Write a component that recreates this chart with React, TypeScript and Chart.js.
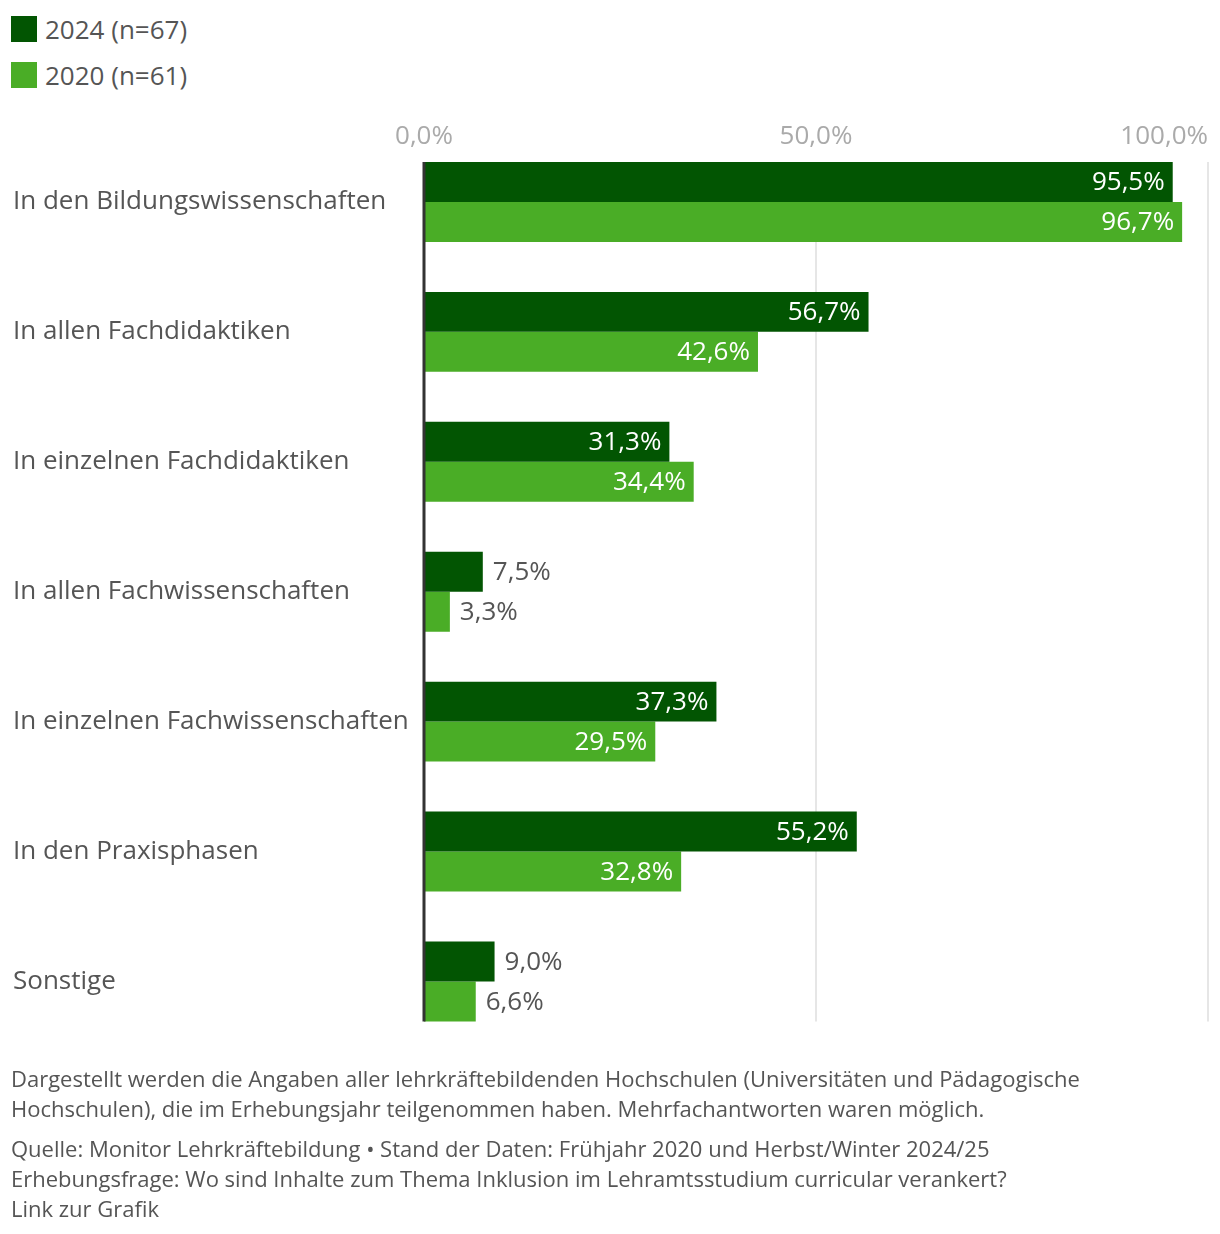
import { useEffect, useRef } from 'react';
import { Chart, registerables } from 'chart.js';

Chart.register(...registerables);

const categories = [
  'In den Bildungswissenschaften',
  'In allen Fachdidaktiken',
  'In einzelnen Fachdidaktiken',
  'In allen Fachwissenschaften',
  'In einzelnen Fachwissenschaften',
  'In den Praxisphasen',
  'Sonstige',
];
const values2024 = [95.5, 56.7, 31.3, 7.5, 37.3, 55.2, 9.0];
const values2020 = [96.7, 42.6, 34.4, 3.3, 29.5, 32.8, 6.6];
const xTicks = [0, 50, 100];

const DARK = '#025502';
const LIGHT = '#4aad26';
const TEXT = '#555555';
const FONT = '"Open Sans", sans-serif';

const fmt = (v: number) => v.toFixed(1).replace('.', ',') + '%';

// gridlines, top tick labels, zero line and value labels
const overlay = {
  id: 'overlay',
  beforeDatasetsDraw(chart: any) {
    const { ctx, chartArea } = chart;
    const x = chart.scales.x;
    const first = chart.getDatasetMeta(0).data[0];
    const lastMeta = chart.getDatasetMeta(chart.data.datasets.length - 1);
    const last = lastMeta.data[lastMeta.data.length - 1];
    const top = first.y - first.height / 2;
    const bottom = last.y + last.height / 2;
    ctx.save();
    ctx.strokeStyle = '#e6e6e6';
    ctx.lineWidth = 2;
    xTicks.slice(1).forEach((t) => {
      const px = x.getPixelForValue(t);
      ctx.beginPath();
      ctx.moveTo(px, top);
      ctx.lineTo(px, bottom);
      ctx.stroke();
    });
    ctx.font = `26px ${FONT}`;
    ctx.fillStyle = '#aaaaaa';
    ctx.textBaseline = 'middle';
    xTicks.forEach((t) => {
      const px = x.getPixelForValue(t);
      const label = fmt(t);
      const w = ctx.measureText(label).width;
      let lx = px - w / 2;
      if (lx + w > chartArea.right) lx = chartArea.right - w;
      ctx.textAlign = 'left';
      ctx.fillText(label, lx, chartArea.top);
    });
    ctx.restore();
  },
  afterDatasetsDraw(chart: any) {
    const { ctx } = chart;
    const x = chart.scales.x;
    const first = chart.getDatasetMeta(0).data[0];
    const lastMeta = chart.getDatasetMeta(chart.data.datasets.length - 1);
    const last = lastMeta.data[lastMeta.data.length - 1];
    ctx.save();
    ctx.font = `26px ${FONT}`;
    ctx.textBaseline = 'middle';
    chart.data.datasets.forEach((ds: any, i: number) => {
      chart.getDatasetMeta(i).data.forEach((bar: any, j: number) => {
        const label = fmt(ds.data[j]);
        const w = ctx.measureText(label).width;
        const barW = bar.x - bar.base;
        if (barW > w + 16) {
          ctx.fillStyle = '#ffffff';
          ctx.textAlign = 'right';
          ctx.fillText(label, bar.x - 8, bar.y + 1);
        } else {
          ctx.fillStyle = TEXT;
          ctx.textAlign = 'left';
          ctx.fillText(label, bar.x + 10, bar.y + 1);
        }
      });
    });
    const zx = x.getPixelForValue(0);
    ctx.strokeStyle = '#333333';
    ctx.lineWidth = 3;
    ctx.beginPath();
    ctx.moveTo(zx, first.y - first.height / 2);
    ctx.lineTo(zx, last.y + last.height / 2);
    ctx.stroke();
    ctx.restore();
  },
};

function BarChart() {
  const canvasRef = useRef<HTMLCanvasElement>(null);
  const chartRef = useRef<Chart | null>(null);

  useEffect(() => {
    if (!canvasRef.current) return;
    if (chartRef.current) chartRef.current.destroy();

    chartRef.current = new Chart(canvasRef.current, {
      type: 'bar',
      data: {
        labels: categories,
        datasets: [
          { label: '2024 (n=67)', data: values2024, backgroundColor: DARK },
          { label: '2020 (n=61)', data: values2020, backgroundColor: LIGHT },
        ],
      },
      options: {
        indexAxis: 'y',
        animation: false,
        responsive: false,
        maintainAspectRatio: false,
        categoryPercentage: 80 / 130,
        barPercentage: 1,
        layout: { padding: { left: 13, right: 12, top: 27, bottom: 3 } },
        scales: {
          x: { display: false, min: 0, max: 100 },
          y: {
            grid: { display: false },
            border: { display: false },
            ticks: {
              crossAlign: 'far',
              color: TEXT,
              font: { family: FONT, size: 26 },
            },
            afterFit: (scale: any) => {
              scale.width = 411;
            },
          },
        },
        plugins: {
          legend: { display: false },
          tooltip: { enabled: false },
        },
      },
      plugins: [overlay],
    } as any);

    return () => {
      if (chartRef.current) {
        chartRef.current.destroy();
        chartRef.current = null;
      }
    };
  }, []);

  return <canvas ref={canvasRef} width={1220} height={955} style={{ display: 'block' }} />;
}

const legendItems = [
  { label: '2024 (n=67)', color: DARK },
  { label: '2020 (n=61)', color: LIGHT },
];

export default function App() {
  return (
    <div
      style={{
        position: 'absolute',
        left: 0,
        top: 0,
        width: 1220,
        height: 1234,
        background: '#fff',
        fontFamily: FONT,
        color: TEXT,
      }}
    >
      <div style={{ position: 'absolute', left: 11, top: 6 }}>
        {legendItems.map((it) => (
          <div key={it.label} style={{ display: 'flex', alignItems: 'center', height: 46 }}>
            <span style={{ width: 26, height: 26, background: it.color, marginRight: 8 }} />
            <span style={{ fontSize: 26 }}>{it.label}</span>
          </div>
        ))}
      </div>
      <div style={{ position: 'absolute', left: 0, top: 110 }}>
        <BarChart />
      </div>
      <div style={{ position: 'absolute', left: 11, top: 1063, fontSize: 22, lineHeight: '30px' }}>
        <div>
          Dargestellt werden die Angaben aller lehrkräftebildenden Hochschulen (Universitäten und Pädagogische
          <br />
          Hochschulen), die im Erhebungsjahr teilgenommen haben. Mehrfachantworten waren möglich.
        </div>
        <div style={{ marginTop: 10 }}>
          Quelle: Monitor Lehrkräftebildung • Stand der Daten: Frühjahr 2020 und Herbst/Winter 2024/25
          <br />
          Erhebungsfrage: Wo sind Inhalte zum Thema Inklusion im Lehramtsstudium curricular verankert?
          <br />
          Link zur Grafik
        </div>
      </div>
    </div>
  );
}
